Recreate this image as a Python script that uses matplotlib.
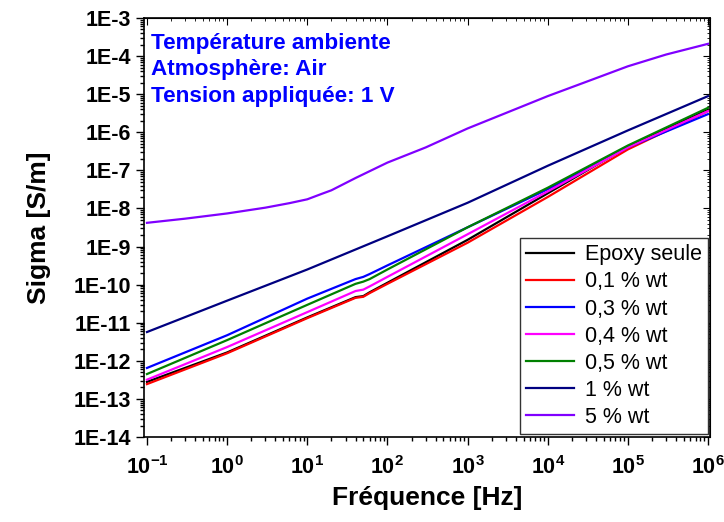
import numpy as np
import matplotlib
matplotlib.use('Agg')
import matplotlib.pyplot as plt
from matplotlib.ticker import LogLocator, FuncFormatter, NullFormatter, FixedLocator

plt.rcParams['font.family'] = ['Liberation Sans', 'DejaVu Sans']
plt.rcParams['mathtext.fontset'] = 'custom'
plt.rcParams['mathtext.rm'] = 'Liberation Sans:bold'
plt.rcParams['mathtext.bf'] = 'Liberation Sans:bold'
plt.rcParams['mathtext.it'] = 'Liberation Sans:bold'

# frequencies (Hz) for the low-loading curves
freq = [0.1, 1, 10, 40, 50, 60, 100, 1e3, 1e4, 1e5, 1e6]
epoxy = [2.8e-13, 1.66e-12, 1.38e-11, 4.7e-11, 5.0e-11, 6.3e-11, 1.12e-10,
         1.5e-9, 2.5e-8, 4.2e-7, 3.9e-6]
wt01 = [2.45e-13, 1.58e-12, 1.32e-11, 4.5e-11, 4.8e-11, 6.0e-11, 1.05e-10,
        1.26e-9, 2.0e-8, 3.55e-7, 3.6e-6]
wt03 = [6.5e-13, 4.7e-12, 4.3e-11, 1.4e-10, 1.6e-10, 1.9e-10, 3.2e-10,
        3.2e-9, 3.2e-8, 4.0e-7, 3.0e-6]
wt04 = [3.2e-13, 2.3e-12, 1.9e-11, 6.8e-11, 7.4e-11, 9.0e-11, 1.6e-10,
        2.1e-9, 2.8e-8, 4.0e-7, 3.6e-6]
wt05 = [4.5e-13, 3.5e-12, 2.95e-11, 1.05e-10, 1.2e-10, 1.4e-10, 2.5e-10,
        3.2e-9, 3.5e-8, 4.5e-7, 4.4e-6]

freq_1 = [0.1, 1, 10, 100, 1e3, 1e4, 1e5, 1e6]
wt1 = [5.7e-12, 3.8e-11, 2.5e-10, 1.86e-9, 1.41e-8, 1.32e-7, 1.12e-6, 8.9e-6]

freq_5 = [0.1, 0.3, 1, 3, 6, 10, 15, 20, 40, 100, 300, 1e3, 3e3, 1e4, 3e4,
          1e5, 3e5, 1e6]
wt5 = [4.2e-9, 5.4e-9, 7.4e-9, 1.05e-8, 1.38e-8, 1.74e-8, 2.4e-8, 3.0e-8,
       6.3e-8, 1.6e-7, 4.0e-7, 1.26e-6, 3.2e-6, 8.9e-6, 2.1e-5, 5.4e-5,
       1.1e-4, 2.1e-4]

labels = ['Epoxy seule', '0,1 % wt', '0,3 % wt', '0,4 % wt', '0,5 % wt',
          '1 % wt', '5 % wt']
colors = ['#000000', '#ff0000', '#0000ff', '#ff00ff', '#008000',
          '#000080', '#8000ff']

x_ticks = [1e-1, 1e0, 1e1, 1e2, 1e3, 1e4, 1e5, 1e6]
y_ticks = [1e-14, 1e-13, 1e-12, 1e-11, 1e-10, 1e-9, 1e-8, 1e-7, 1e-6,
           1e-5, 1e-4, 1e-3]

fig = plt.figure(figsize=(7.24, 5.22), dpi=100)
ax = fig.add_axes([0.1989, 0.1628, 0.7818, 0.8027])

series = [(freq, epoxy), (freq, wt01), (freq, wt03), (freq, wt04),
          (freq, wt05), (freq_1, wt1), (freq_5, wt5)]
for (f, s), lab, c in zip(series, labels, colors):
    ax.plot(f, s, color=c, lw=1.6, label=lab)

ax.set_xscale('log')
ax.set_yscale('log')
ax.set_xlim(10 ** -1.037, 10 ** 6.025)
ax.set_ylim(1e-14, 1e-3)

ax.xaxis.set_major_locator(FixedLocator(x_ticks))
ax.xaxis.set_minor_locator(LogLocator(base=10, subs=np.arange(2, 10), numticks=20))
ax.yaxis.set_major_locator(FixedLocator(y_ticks))
ax.yaxis.set_minor_locator(LogLocator(base=10, subs=np.arange(2, 10), numticks=20))
ax.xaxis.set_major_formatter(FuncFormatter(
    lambda v, p: r'$10^{%d}$' % round(np.log10(v))))
ax.yaxis.set_major_formatter(FuncFormatter(
    lambda v, p: '1E%d' % round(np.log10(v))))
ax.xaxis.set_minor_formatter(NullFormatter())
ax.yaxis.set_minor_formatter(NullFormatter())

ax.tick_params(which='both', direction='out', width=1.0, labelsize=15.5)
ax.tick_params(which='major', length=6)
ax.tick_params(which='minor', length=3)
ax.tick_params(axis='x', pad=8)
for lab in ax.get_yticklabels():
    lab.set_fontweight('bold')

# mirrored ticks on top and right
axt = ax.secondary_xaxis('top')
axt.xaxis.set_major_locator(FixedLocator(x_ticks))
axt.xaxis.set_minor_locator(LogLocator(base=10, subs=np.arange(2, 10), numticks=20))
axt.xaxis.set_major_formatter(NullFormatter())
axt.tick_params(which='both', direction='in', labeltop=False)
axt.tick_params(which='major', length=5)
axt.tick_params(which='minor', length=2.5)
axr = ax.secondary_yaxis('right')
axr.yaxis.set_major_locator(FixedLocator(y_ticks))
axr.yaxis.set_minor_locator(LogLocator(base=10, subs=np.arange(2, 10), numticks=20))
axr.yaxis.set_major_formatter(NullFormatter())
axr.tick_params(which='both', direction='in', labelright=False)
axr.tick_params(which='major', length=5)
axr.tick_params(which='minor', length=2.5)

for sp in ax.spines.values():
    sp.set_linewidth(1.2)

ax.set_xlabel('Fréquence [Hz]', fontsize=19, fontweight='bold', labelpad=5)
ax.set_ylabel('Sigma [S/m]', fontsize=19, fontweight='bold', labelpad=16)

ax.text(0.012, 0.965, 'Température ambiente\nAtmosphère: Air\nTension appliquée: 1 V',
        transform=ax.transAxes, color='#0000ff', fontsize=16.2,
        fontweight='bold', va='top', ha='left', linespacing=1.36)

leg = ax.legend(loc='lower right', bbox_to_anchor=(0.9965, 0.007),
                borderaxespad=0, fontsize=15.5, handlelength=2.2,
                labelspacing=0.28, fancybox=False, framealpha=1,
                edgecolor='#333333', borderpad=0.3, handletextpad=0.5)
leg.get_frame().set_linewidth(1.0)

fig.savefig('out.png', dpi=100)
